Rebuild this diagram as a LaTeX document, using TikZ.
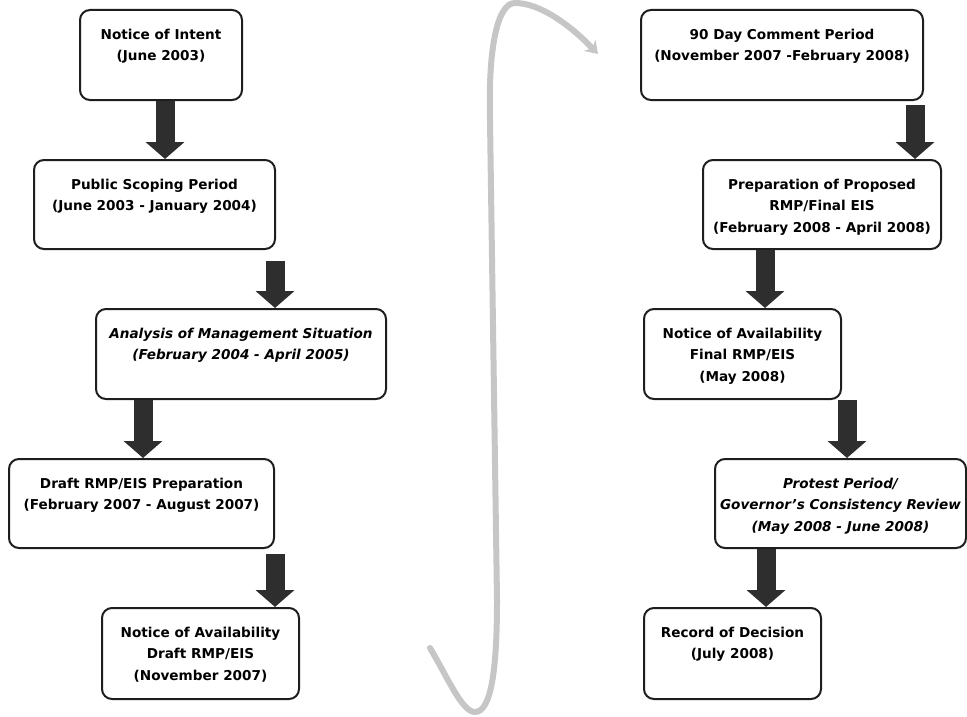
\documentclass[tikz,border=0pt]{standalone}
\usepackage{fontspec}
\setmainfont{DejaVu Sans}
\usetikzlibrary{arrows.meta,calc}
\definecolor{boxline}{HTML}{1E1E1E}
\definecolor{fatgray}{HTML}{2E2E2E}
\definecolor{curvegray}{HTML}{C6C6C6}
\newcommand\mkstage[6]{%
  \node[stagebox, minimum width={(#4-#2)*1pt}, minimum height={(#5-#3)*1pt}] (#1) at (#2,#3) {};
  \node[lbl] (t#1) at ($(#1.north)+(0,19.5)$) {#6};}
\begin{document}
\begin{tikzpicture}[x=1pt,y=-1pt,
  stagebox/.style={draw=boxline, line width=2pt, rounded corners=10pt, anchor=north west, inner sep=0pt, fill=white},
  lbl/.style={anchor=north, align=center, inner sep=0pt, font=\fontsize{13.6}{21.5}\selectfont\bfseries},
  fat/.style={draw=fatgray, line width=19pt, -{Triangle[width=38pt,length=17pt]}},
  loop/.style={draw=curvegray, line width=6pt, line cap=round, -{Stealth[width=16pt,length=12pt]}},
]
\useasboundingbox (0,0) rectangle (967,717);
% left column
\mkstage{b1}{79}{9}{241}{99}{Notice of Intent\\(June 2003)}
\mkstage{b2}{33}{159}{274}{248}{Public Scoping Period\\(June 2003 - January 2004)}
\mkstage{b3}{95}{308}{385}{398}{\itshape Analysis of Management Situation\\\itshape (February 2004 - April 2005)}
\mkstage{b4}{8}{458}{273}{547}{Draft RMP/EIS Preparation\\(February 2007 - August 2007)}
\mkstage{b5}{101}{607}{298}{698}{Notice of Availability\\Draft RMP/EIS\\(November 2007)}
% right column
\mkstage{b6}{640}{9}{922}{99}{90 Day Comment Period\\(November 2007 -February 2008)}
\mkstage{b7}{702}{159}{940}{248}{Preparation of Proposed\\RMP/Final EIS\\(February 2008 - April 2008)}
\mkstage{b8}{643}{308}{840}{398}{Notice of Availability\\Final RMP/EIS\\(May 2008)}
\mkstage{b9}{714}{458}{965}{547}{\itshape Protest Period/\\\itshape Governor's Consistency Review\\\itshape (May 2008 - June 2008)}
\mkstage{b10}{643}{607}{820}{698}{Record of Decision\\(July 2008)}
% fat arrows
\draw[fat] (b1.south -| 165,0) -- (b2.north -| 165,0);
\draw[fat] ($(b2.south -| 275,0)+(0,11)$) -- (b3.north -| 275,0);
\draw[fat] (b3.south -| 143,0) -- (b4.north -| 143,0);
\draw[fat] ($(b4.south -| 275,0)+(0,5)$) -- (b5.north -| 275,0);
\draw[fat] ($(b6.south -| 915,0)+(0,4)$) -- (b7.north -| 915,0);
\draw[fat] (b7.south -| 765,0) -- (b8.north -| 765,0);
\draw[fat] (b8.south -| 847,0) -- (b9.north -| 847,0);
\draw[fat] (b9.south -| 766,0) -- (b10.north -| 766,0);
% gray loop arrow
\coordinate (lstart) at (430,648);
\coordinate (lend) at (598,54);
\draw[loop] (lstart) .. controls (448,678) and (462,712) .. (475,712)
  .. controls (492,712) and (497,665) .. (497,600)
  -- (490,120)
  .. controls (488,45) and (498,3) .. (515,3)
  .. controls (540,3) and (570,25) .. (lend);
\end{tikzpicture}
\end{document}
